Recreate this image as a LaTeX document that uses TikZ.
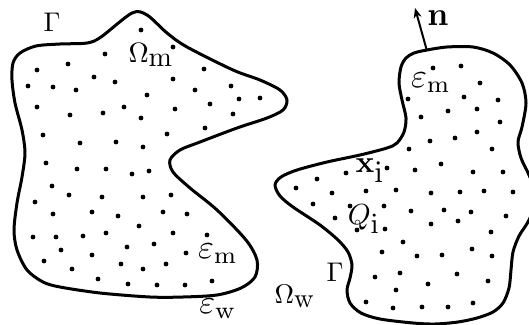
\documentclass[tikz,border=0pt]{standalone}
\usepackage{amsmath,graphicx}
\usetikzlibrary{arrows.meta}

\tikzset{
  outline/.style={line width=3pt,line join=round},
  lbl/.style={inner sep=0pt},
  pt/.style={fill=black}
}
\newcommand{\biglbl}[2][2.5]{\scalebox{#1}{$#2$}}

\begin{document}
\begin{tikzpicture}[x=1pt,y=-1pt]
\path[use as bounding box] (0,0) rectangle (529,324);
% left domain
\draw[outline] plot[smooth cycle,tension=0.5] coordinates {
  (13,63) (20,53) (36,46) (60,44) (87,43) (101,37) (132,13) (147,15) (167,33)
  (187,47) (233,70) (260,80) (280,90) (287,100) (283,110) (267,118) (237,128)
  (200,142) (180,150) (170,160) (173,172) (190,188) (217,210) (246,240)
  (257,260) (255,277) (241,288) (217,295) (183,297) (150,297) (100,293)
  (60,287) (43,282) (27,270) (17,250) (14,230) (17,203) (22,177) (25,153)
  (22,130) (15,103) (12,80)};
% right domain
\draw[outline] plot[smooth cycle,tension=0.5] coordinates {
  (427,50) (447,47) (473,47) (493,53) (510,65) (522,83) (526,103) (522,127)
  (518,142) (521,158) (529,175) (537,197) (529,220) (519,236) (513,252)
  (511,270) (509,288) (503,303) (493,312) (477,318) (458,322) (435,324)
  (413,323) (380,319) (361,313) (350,303) (347,290) (350,278) (352,265)
  (348,252) (338,240) (320,225) (293,207) (280,196) (275,185) (281,177)
  (297,170) (327,162) (360,155) (387,148) (397,143) (404,132) (406,118)
  (402,100) (399,83) (401,67) (406,58) (414,53)};
% nodes of the left domain
\foreach \x/\y in {141/30,173/47,105/54,68/64,37/70,204/69,94/77,115/82,173/79,
  28/86,53/87,76/90,195/90,231/86,147/95,239/99,260/98,210/104,124/107,103/113,
  37/107,70/115,175/109,233/114,141/118,205/128,167/134,43/135,80/143,116/142,
  143/147,46/163,77/169,106/169,132/174,149/171,52/186,69/195,102/197,143/197,
  171/195,35/202,53/214,92/212,118/216,163/212,187/214,139/226,33/237,56/237,
  83/236,106/233,173/233,207/235,61/250,127/247,154/244,186/253,92/255,44/261,
  72/269,121/264,143/269,166/264,98/279,128/284,157/285,185/285,212/281}
  \fill[pt] (\x,\y) circle (2.4);
% nodes of the right domain
\foreach \x/\y in {433/68,461/66,480/83,464/97,498/100,408/99,421/117,448/111,
  477/109,500/122,477/132,455/138,430/141,409/149,492/149,441/164,473/172,
  503/172,415/170,387/168,346/173,317/179,296/188,332/193,366/191,396/190,
  431/193,460/192,484/191,513/192,313/204,350/206,384/206,411/211,444/210,
  471/212,506/216,335/218,385/229,357/230,431/224,458/221,491/232,403/242,
  382/252,417/256,442/255,472/249,492/256,400/273,457/274,375/277,428/284,
  488/281,396/290,366/302,393/308,422/307,448/307,473/303}
  \fill[pt] (\x,\y) circle (2.4);
% labels
\node[lbl] (gammaL) at (52,22) {\biglbl[2.7]{\Gamma}};
\node[lbl] (omegaM) at (151,55) {\biglbl[2.8]{\Omega_{\textstyle\mathrm{m}}}};
\node[lbl] (epsML) at (218,254) {\biglbl[3.4]{\varepsilon_{\mathrm{m}}}};
\node[lbl] (epsW) at (218,309) {\biglbl[3.4]{\varepsilon_{\mathrm{w}}}};
\node[lbl] (omegaW) at (295,296) {\biglbl[2.7]{\Omega_{\textstyle\mathrm{w}}}};
\node[lbl] (gammaR) at (335,272) {\biglbl[2.7]{\Gamma}};
\node[lbl] (Qi) at (364,219) {\biglbl[2.9]{Q_{\textstyle\mathrm{i}}}};
\node[lbl] (xi) at (370,171) {\biglbl[3.1]{\mathbf{x}_{\textstyle\mathrm{i}}}};
\node[lbl] (epsMR) at (431,83) {\biglbl[3.4]{\varepsilon_{\mathrm{m}}}};
\node[lbl] (normal) at (438,18) {\biglbl[3.3]{\mathbf{n}}};
% normal vector
\coordinate (nbase) at (427,51);
\coordinate (ntip) at (415,8);
\draw[line width=2pt,-{Stealth[length=10pt,width=8pt]}] (nbase) -- (ntip);
\end{tikzpicture}
\end{document}
